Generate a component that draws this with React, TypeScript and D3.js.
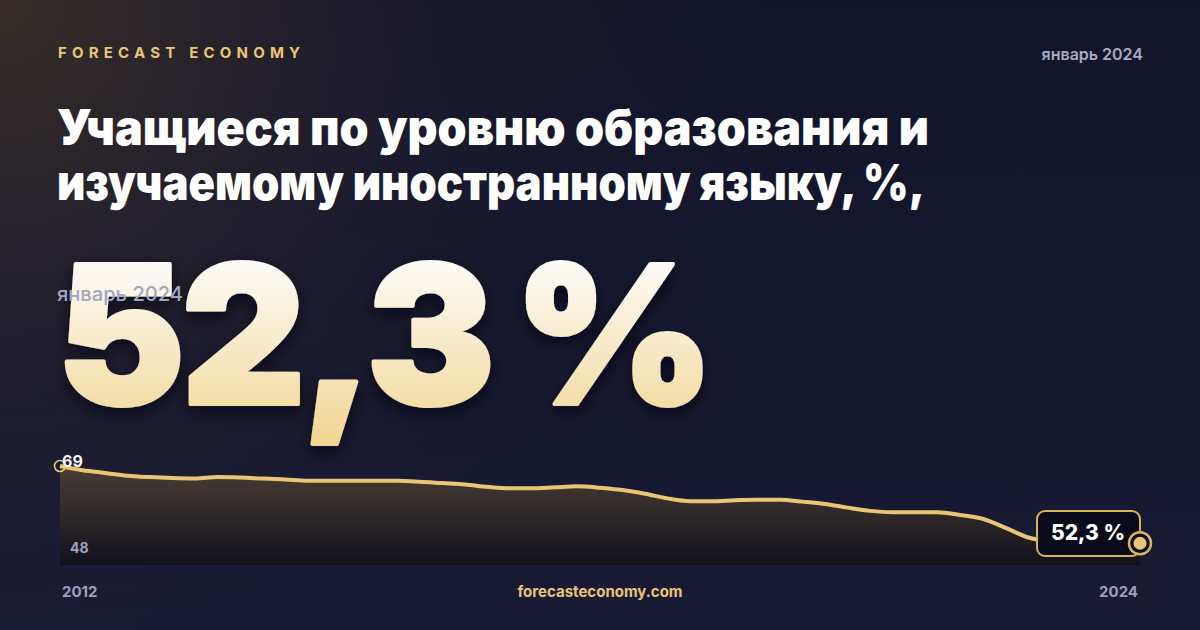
import { useRef, useEffect } from "react"
import * as d3 from "d3"

// quarterly share of students, 2012 Q1 .. 2024 Q1
const values = [
  69.0, 68.1, 67.5, 66.9, 66.6, 66.4, 66.3, 66.6, 66.5, 66.3,
  66.1, 65.8, 65.8, 65.8, 65.8, 65.8, 65.6, 65.3, 65.0, 64.5,
  64.2, 64.2, 64.4, 64.6, 64.3, 63.8, 63.0, 62.0, 61.4, 61.4,
  61.6, 61.7, 61.7, 61.3, 60.8, 60.0, 59.3, 59.0, 59.0, 59.0,
  58.4, 57.6, 55.7, 53.6, 52.8, 52.6, 52.5, 52.4, 52.3,
]
const yearLabels = ["2012", "2024"]
const yLabels = ["69", "48"]
const titleLines = ["Учащиеся по уровню образования и", "изучаемому иностранному языку, %,"]
const titleWidths = [872, 868]
const brand = "FORECAST ECONOMY"
const period = "январь 2024"
const headline = "52,3 %"
const site = "forecasteconomy.com"

export default function App() {
  const svgRef = useRef<SVGSVGElement>(null)

  function drawChart() {
    const width = 1200
    const height = 630
    const gold = "#e8c674"
    const muted = "#9c9fbd"
    const font = "Inter, 'Noto Sans', sans-serif"

    const svg = d3.select(svgRef.current).attr("width", width).attr("height", height)
    svg.selectAll("*").remove()

    const defs = svg.append("defs")
    const glow = defs.append("radialGradient").attr("id", "glow")
      .attr("gradientUnits", "userSpaceOnUse").attr("cx", 0).attr("cy", 0).attr("r", 780)
    glow.append("stop").attr("offset", 0).attr("stop-color", "#3a3027").attr("stop-opacity", 0.95)
    glow.append("stop").attr("offset", 0.55).attr("stop-color", "#2a2430").attr("stop-opacity", 0.35)
    glow.append("stop").attr("offset", 1).attr("stop-color", "#151730").attr("stop-opacity", 0)

    const bg = defs.append("linearGradient").attr("id", "bg").attr("x1", 0).attr("y1", 0).attr("x2", 0).attr("y2", 1)
    bg.append("stop").attr("offset", 0).attr("stop-color", "#121429")
    bg.append("stop").attr("offset", 1).attr("stop-color", "#191b35")

    const numFill = defs.append("linearGradient").attr("id", "numFill")
      .attr("gradientUnits", "userSpaceOnUse").attr("x1", 0).attr("y1", 262).attr("x2", 0).attr("y2", 440)
    numFill.append("stop").attr("offset", 0).attr("stop-color", "#fdfbf7")
    numFill.append("stop").attr("offset", 1).attr("stop-color", "#f2d694")

    const areaFill = defs.append("linearGradient").attr("id", "areaFill").attr("x1", 0).attr("y1", 0).attr("x2", 0).attr("y2", 1)
    areaFill.append("stop").attr("offset", 0).attr("stop-color", "#4a3e35")
    areaFill.append("stop").attr("offset", 1).attr("stop-color", "#12111b")

    const shadow = defs.append("filter").attr("id", "shadow").attr("x", "-10%").attr("y", "-10%").attr("width", "120%").attr("height", "130%")
    shadow.append("feDropShadow").attr("dx", 0).attr("dy", 6).attr("stdDeviation", 8)
      .attr("flood-color", "#05060f").attr("flood-opacity", 0.7)

    // background
    svg.append("rect").attr("width", width).attr("height", height).attr("fill", "url(#bg)")
    svg.append("rect").attr("width", width).attr("height", height).attr("fill", "url(#glow)")

    // header
    svg.append("text").text(brand)
      .attr("x", 58).attr("y", 58)
      .attr("fill", gold).attr("font-family", font).attr("font-weight", 700)
      .attr("font-size", 15).attr("letter-spacing", 5.2)
    svg.append("text").text(period)
      .attr("x", 1143).attr("y", 60).attr("text-anchor", "end")
      .attr("fill", "#a9abc6").attr("font-family", font).attr("font-weight", 600).attr("font-size", 16)

    svg.append("g").selectAll("text").data(titleLines).enter().append("text")
      .text((d) => d)
      .attr("x", 57).attr("y", (d, i) => 145 + i * 55)
      .attr("textLength", (d, i) => titleWidths[i]).attr("lengthAdjust", "spacingAndGlyphs")
      .attr("fill", "#ffffff").attr("font-family", font).attr("font-weight", 900)
      .attr("font-size", 49)

    // big value
    svg.append("text").text(headline)
      .attr("x", 57).attr("y", 404)
      .attr("fill", "url(#numFill)").attr("stroke", "url(#numFill)").attr("stroke-width", 4)
      .attr("stroke-linejoin", "round")
      .attr("font-family", font).attr("font-weight", 900)
      .attr("font-size", 192).attr("letter-spacing", -3.5).attr("word-spacing", -12)
      .attr("filter", "url(#shadow)")
    svg.append("text").text(period)
      .attr("x", 57).attr("y", 301)
      .attr("textLength", 126).attr("lengthAdjust", "spacingAndGlyphs")
      .attr("fill", "#a3a6c2").attr("font-family", font).attr("font-weight", 500).attr("font-size", 20)

    // chart
    const x = d3.scaleLinear().domain([0, values.length - 1]).range([60, 1140])
    const y = d3.scaleLinear().domain([47.6, 69]).range([565, 466])

    const area = d3.area<number>()
      .x((d, i) => x(i)).y0(565).y1((d) => y(d))
      .curve(d3.curveMonotoneX)
    const line = d3.line<number>()
      .x((d, i) => x(i)).y((d) => y(d))
      .curve(d3.curveMonotoneX)

    svg.append("path").datum(values).attr("d", area).attr("fill", "url(#areaFill)")
    svg.append("path").datum(values).attr("d", line)
      .attr("fill", "none").attr("stroke", gold).attr("stroke-width", 4)
      .attr("stroke-linejoin", "round")

    // start marker
    svg.append("circle").attr("cx", x(0)).attr("cy", y(values[0])).attr("r", 5.5)
      .attr("fill", "none").attr("stroke", gold).attr("stroke-width", 1.6)

    // y labels
    svg.append("text").text(yLabels[0])
      .attr("x", 62).attr("y", 467)
      .attr("fill", "#f4f3f6").attr("font-family", font).attr("font-weight", 700).attr("font-size", 16)
    svg.append("text").text(yLabels[1])
      .attr("x", 70).attr("y", 553)
      .attr("fill", muted).attr("font-family", font).attr("font-weight", 700).attr("font-size", 14)

    // end label
    const last = values[values.length - 1]
    const ex = x(values.length - 1)
    const ey = y(last)
    svg.append("rect").attr("x", 1037).attr("y", 511).attr("width", 103).attr("height", 45).attr("rx", 8)
      .attr("fill", "#0b0c1b").attr("stroke", "#d9b25c").attr("stroke-width", 2)
    svg.append("text").text(headline)
      .attr("x", 1088).attr("y", 540).attr("text-anchor", "middle")
      .attr("fill", "#ffffff").attr("font-family", font).attr("font-weight", 800).attr("font-size", 21)
    svg.append("circle").attr("cx", ex).attr("cy", ey).attr("r", 11)
      .attr("fill", "#0b0c1b").attr("stroke", "#d9b25c").attr("stroke-width", 2.5)
    svg.append("circle").attr("cx", ex).attr("cy", ey).attr("r", 6.5).attr("fill", gold)

    // footer
    svg.append("g").selectAll("text").data(yearLabels).enter().append("text")
      .text((d) => d)
      .attr("x", (d, i) => (i === 0 ? 62 : 1138)).attr("y", 597)
      .attr("text-anchor", (d, i) => (i === 0 ? "start" : "end"))
      .attr("fill", muted).attr("font-family", font).attr("font-weight", 700).attr("font-size", 15)
    svg.append("text").text(site)
      .attr("x", 600).attr("y", 597).attr("text-anchor", "middle")
      .attr("fill", gold).attr("font-family", font).attr("font-weight", 700).attr("font-size", 15)
  }

  useEffect(() => {
    drawChart()
  }, [svgRef])

  return (
    <div style={{ position: "absolute", left: 0, top: 0 }}>
      <svg ref={svgRef} style={{ display: "block" }}></svg>
    </div>
  )
}
